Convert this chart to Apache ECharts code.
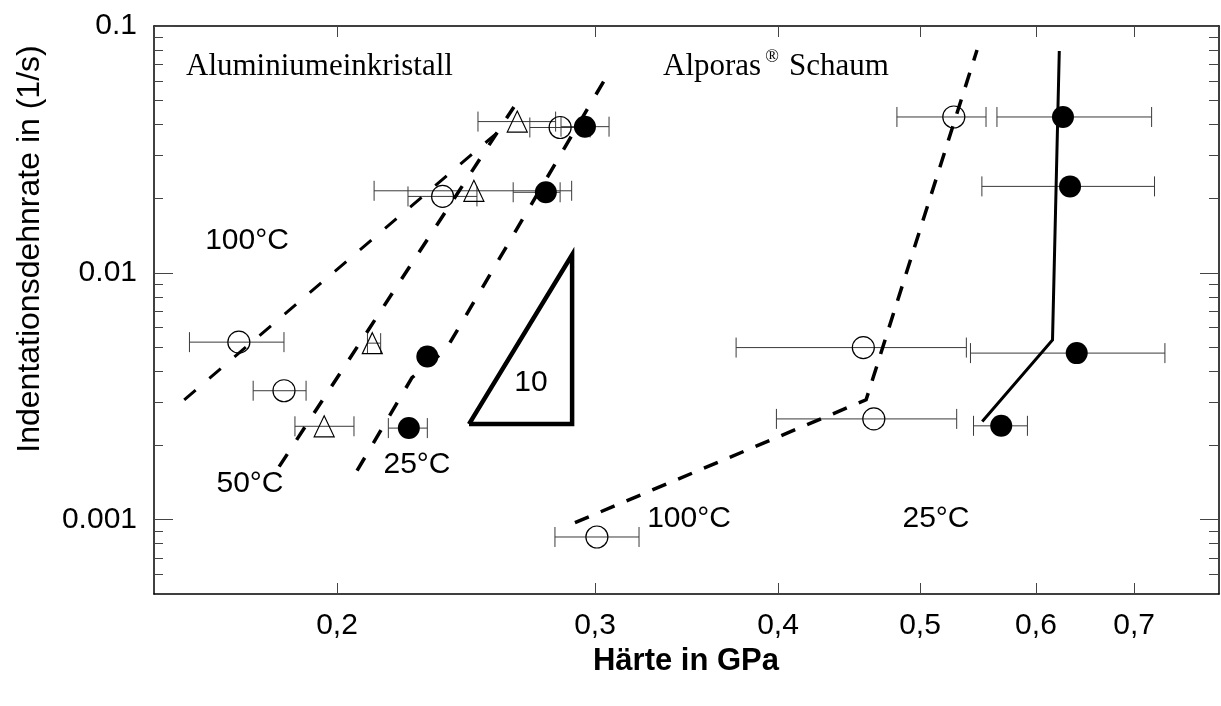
<!DOCTYPE html>
<html>
<head>
<meta charset="utf-8">
<script src="https://cdn.jsdelivr.net/npm/echarts@6/dist/echarts.min.js"></script>
<style>
  html, body { margin: 0; padding: 0; background: #fff; }
  #chart { width: 1221px; height: 706px; }
</style>
</head>
<body>
<div id="chart"></div>
<script>
// Hardness (GPa) against indentation strain rate (1/s), log-log,
// for an aluminium single crystal and Alporas foam at several temperatures.

const xTickValues = [0.2, 0.3, 0.4, 0.5, 0.6, 0.7];
const xTickLabels = ['0,2', '0,3', '0,4', '0,5', '0,6', '0,7'];
const yTickValues = [0.001, 0.01, 0.1];
const yTickLabels = ['0.001', '0.01', '0.1'];
const yMinorTicks = [
  0.0006, 0.0007, 0.0008, 0.0009,
  0.002, 0.003, 0.004, 0.005, 0.006, 0.007, 0.008, 0.009,
  0.02, 0.03, 0.04, 0.05, 0.06, 0.07, 0.08, 0.09
];

// Aluminium single crystal: [hardness, strain rate] and hardness error range [low, high]
const alu25 = [[0.2953, 0.0391], [0.2777, 0.0212], [0.2305, 0.00458], [0.2239, 0.00235]];
const alu25Err = [[0.2844, 0.3067], [0.2638, 0.2840], null, [0.2168, 0.2305]];
const alu50 = [[0.2655, 0.0410], [0.2480, 0.0215], [0.2114, 0.00519], [0.1960, 0.00239]];
const alu50Err = [[0.2496, 0.2820], [0.2120, 0.2892], [0.2098, 0.2142], [0.1872, 0.2054]];
const alu100 = [[0.2840, 0.0388], [0.2361, 0.0204], [0.1714, 0.00524], [0.1840, 0.00333]];
const alu100Err = [[0.2708, 0.2977], [0.2236, 0.2492], [0.1586, 0.1840], [0.1753, 0.1905]];

// Guide lines through the aluminium data
const alu25Line = [[0.2064, 0.00158], [0.2250, 0.00376], [0.2373, 0.00488], [0.3062, 0.0639]];
const alu50Line = [[0.1826, 0.00164], [0.2641, 0.0470]];
const alu100Line = [[0.1573, 0.00306], [0.2572, 0.0369]];

// Slope triangle (exponent 10)
const slopeTriangle = [[0.2461, 0.00244], [0.2894, 0.00244], [0.2894, 0.01183], [0.2461, 0.00244]];

// Alporas foam
const foam25 = [[0.6260, 0.0428], [0.6330, 0.0224], [0.6397, 0.00473], [0.5681, 0.00240]];
const foam25Err = [[0.5643, 0.7196], [0.5511, 0.7229], [0.5413, 0.7348], [0.5439, 0.5920]];
const foam100 = [[0.5273, 0.0428], [0.4574, 0.00498], [0.4650, 0.00256], [0.3009, 0.000851]];
const foam100Err = [[0.4822, 0.5547], [0.3745, 0.5378], [0.3990, 0.5297], [0.2817, 0.3215]];
const foam25Line = [[0.5514, 0.00250], [0.6158, 0.00535], [0.6224, 0.0792]];
const foam100Line = [[0.2907, 0.000973], [0.4594, 0.00306], [0.5469, 0.0799]];

const SANS = '"Liberation Sans", Arial, sans-serif';
const SERIF = '"Liberation Serif", "Times New Roman", serif';

function withErrors(points, errs) {
  const out = [];
  points.forEach((p, i) => { if (errs[i]) out.push([p[0], p[1], errs[i][0], errs[i][1]]); });
  return out;
}

function renderErrorBar(params, api) {
  const y = api.value(1);
  const a = api.coord([api.value(2), y]);
  const b = api.coord([api.value(3), y]);
  const cap = 10;
  const style = { stroke: '#3a3a3a', lineWidth: 1 };
  return {
    type: 'group',
    children: [
      { type: 'line', shape: { x1: a[0], y1: a[1], x2: b[0], y2: b[1] }, style },
      { type: 'line', shape: { x1: a[0], y1: a[1] - cap, x2: a[0], y2: a[1] + cap }, style },
      { type: 'line', shape: { x1: b[0], y1: b[1] - cap, x2: b[0], y2: b[1] + cap }, style }
    ]
  };
}

function errorSeries(points, errs) {
  return {
    type: 'custom',
    renderItem: renderErrorBar,
    data: withErrors(points, errs),
    encode: { x: 0, y: 1 },
    z: 1,
    silent: true
  };
}

function lookupLabel(values, labels) {
  return function (v) {
    let best = 0;
    values.forEach((t, i) => { if (Math.abs(Math.log(t / v)) < Math.abs(Math.log(values[best] / v))) best = i; });
    return labels[best];
  };
}

const frameLine = { show: true, lineStyle: { color: '#000', width: 1.5 } };

function xAxisDef(position, withLabels) {
  return {
    type: 'log', logBase: 10, min: 0.15, max: 0.8, position,
    axisLine: frameLine,
    axisTick: { show: true, inside: true, length: 11, customValues: xTickValues, lineStyle: { color: '#444', width: 1 } },
    axisLabel: withLabels
      ? { show: true, customValues: xTickValues, formatter: lookupLabel(xTickValues, xTickLabels),
          fontSize: 30, fontFamily: SANS, color: '#000', margin: 17 }
      : { show: false },
    minorTick: { show: false },
    splitLine: { show: false }
  };
}

function yAxisDef(position, ticks, len, withLabels, showLine) {
  return {
    type: 'log', logBase: 10, min: 0.0005, max: 0.1, position, offset: 0,
    axisLine: showLine ? frameLine : { show: false },
    axisTick: { show: true, inside: true, length: len, customValues: ticks, lineStyle: { color: '#444', width: 1 } },
    axisLabel: withLabels
      ? { show: true, customValues: yTickValues, formatter: lookupLabel(yTickValues, yTickLabels),
          fontSize: 30, fontFamily: SANS, color: '#000', margin: 17 }
      : { show: false },
    minorTick: { show: false },
    splitLine: { show: false }
  };
}

function lineSeries(data, dash, width) {
  return {
    type: 'line', data, showSymbol: false, symbol: 'none', z: 3, silent: true,
    lineStyle: { color: '#000', width: width, type: dash, cap: 'butt', join: 'miter', opacity: 1 }
  };
}

function scatterSeries(data, symbol, size, filled) {
  return {
    type: 'scatter', data, symbol, symbolSize: size, z: 2, silent: true,
    itemStyle: filled
      ? { color: '#000', borderColor: '#000', borderWidth: 0, opacity: 1 }
      : { color: 'rgba(0,0,0,0)', borderColor: '#000', borderWidth: 1.2, opacity: 1 }
  };
}

function label(text, x, y, font, align) {
  return {
    type: 'text', x, y, silent: true,
    style: { text, font, fill: '#000', align: align || 'center', verticalAlign: 'middle' }
  };
}

const chart = echarts.init(document.getElementById('chart'), null, { renderer: 'canvas' });

chart.setOption({
  animation: false,
  backgroundColor: '#fff',
  grid: { left: 154, right: 2, top: 26, bottom: 112, containLabel: false },
  xAxis: [xAxisDef('bottom', true), xAxisDef('top', false)],
  yAxis: [
    yAxisDef('left', yTickValues, 19, true, true),
    yAxisDef('left', yMinorTicks, 9, false, false),
    yAxisDef('right', yTickValues, 19, false, true),
    yAxisDef('right', yMinorTicks, 10, false, false)
  ],
  series: [
    errorSeries(alu25, alu25Err),
    errorSeries(alu50, alu50Err),
    errorSeries(alu100, alu100Err),
    errorSeries(foam25, foam25Err),
    errorSeries(foam100, foam100Err),

    scatterSeries(alu25, 'circle', 22, true),
    scatterSeries(alu50, 'triangle', [20, 21], false),
    scatterSeries(alu100, 'circle', 22, false),
    scatterSeries(foam25, 'circle', 22, true),
    scatterSeries(foam100, 'circle', 22, false),

    lineSeries(alu25Line, [15, 17], 3.5),
    lineSeries(alu50Line, [15, 17], 3.5),
    lineSeries(alu100Line, [15, 18], 3),
    lineSeries(foam100Line, [15, 13], 3.5),
    lineSeries(foam25Line, 'solid', 3),
    lineSeries(slopeTriangle, 'solid', 4.5)
  ],
  graphic: [
    label('Aluminiumeinkristall', 186, 67, '31px ' + SERIF, 'left'),
    label('Alporas', 663, 67, '31px ' + SERIF, 'left'),
    label('\u00AE', 772, 57, '18px ' + SERIF),
    label('Schaum', 789, 67, '31px ' + SERIF, 'left'),
    label('100°C', 247, 241, '30px ' + SANS),
    label('50°C', 250, 484, '30px ' + SANS),
    label('25°C', 417, 465, '30px ' + SANS),
    label('10', 531, 383, '30px ' + SANS),
    label('100°C', 689, 519, '30px ' + SANS),
    label('25°C', 936, 519, '30px ' + SANS),
    {
      type: 'text', x: 30, y: 249, rotation: Math.PI / 2, silent: true,
      style: { text: 'Indentationsdehnrate in (1/s)', font: '32px ' + SANS, fill: '#000',
               align: 'center', verticalAlign: 'middle' }
    },
    label('Härte in GPa', 686, 661, 'bold 31px ' + SANS)
  ]
});
</script>
</body>
</html>
